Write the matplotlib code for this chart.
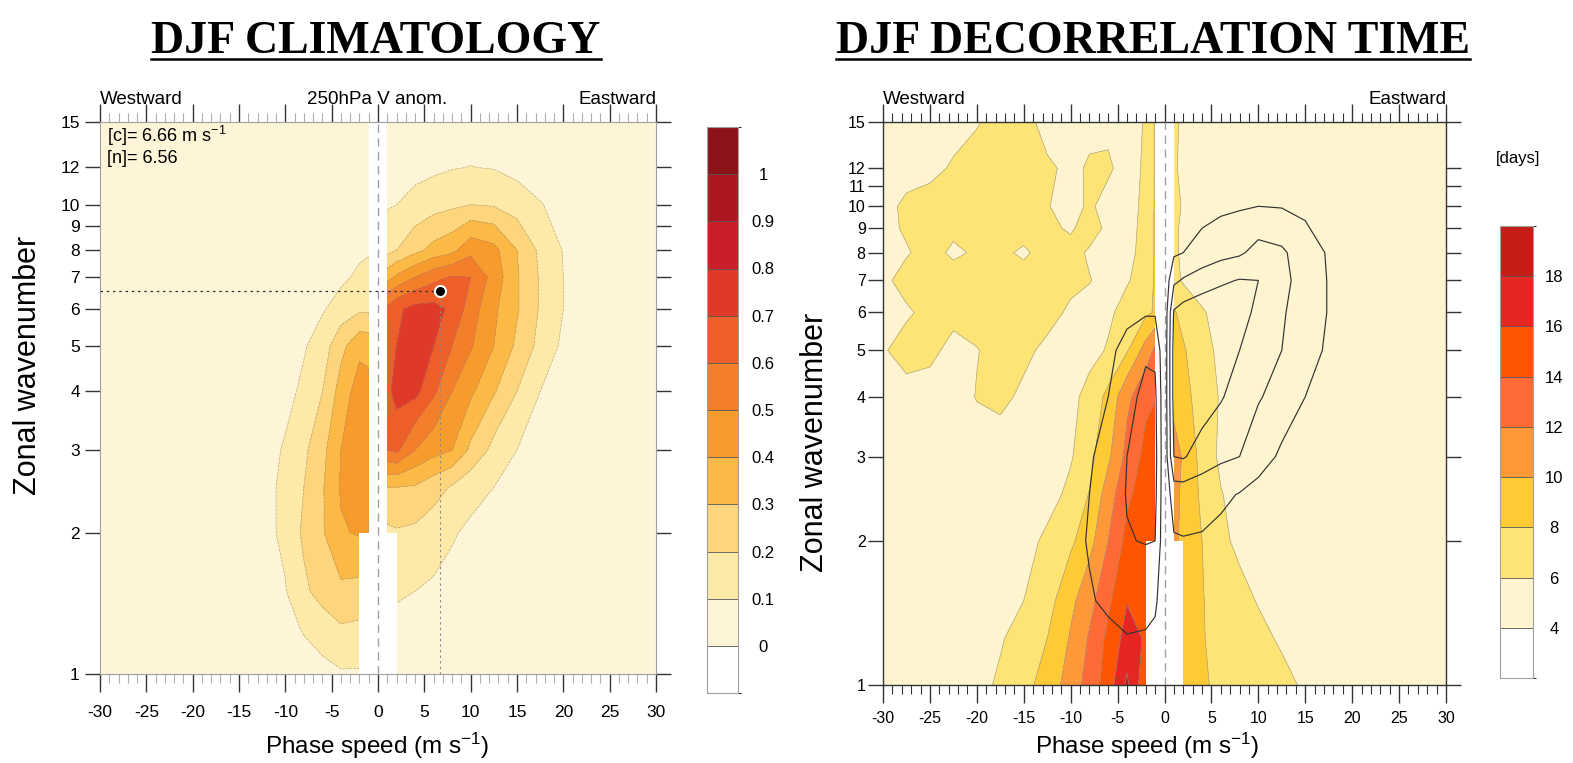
import numpy as np
import matplotlib
matplotlib.use("Agg")
import matplotlib.pyplot as plt
from matplotlib.colors import ListedColormap, BoundaryNorm
from matplotlib.cm import ScalarMappable
from matplotlib.lines import Line2D
from matplotlib.ticker import NullLocator, MultipleLocator

plt.rcParams['font.family'] = ['Liberation Sans', 'DejaVu Sans']
plt.rcParams['mathtext.fontset'] = 'custom'
plt.rcParams['mathtext.rm'] = 'Liberation Sans'
plt.rcParams['mathtext.it'] = 'Liberation Sans:italic'
plt.rcParams['axes.unicode_minus'] = False

# ---- left panel: 250hPa V anomaly climatology (phase speed x zonal wavenumber)
clim_speed = [-30, -25, -20, -17.5, -15, -12.5, -10, -8, -6, -4, -2, -1, 0,
              1, 2, 4, 6, 8, 10, 12.5, 15, 17.5, 20, 25, 30]
clim_wavenum = [1, 1.25, 1.5, 2, 2.5, 3, 4, 5, 6, 7, 8, 10, 12, 15]
clim_values = [
    [.05, .05, .05, .05, .05, .05, .05, .05, .07, .09, .09, .08, .05, .06, .06, .05, .05, .05, .05, .05, .05, .05, .05, .05, .05],
    [.05, .05, .05, .05, .05, .05, .06, .11, .15, .19, .18, .15, .05, .08, .08, .075, .06, .05, .05, .05, .05, .05, .05, .05, .05],
    [.05, .05, .05, .05, .05, .06, .095, .18, .24, .28, .27, .24, .05, .11, .11, .10, .085, .07, .06, .05, .05, .05, .05, .05, .05],
    [.05, .05, .05, .05, .05, .07, .12, .22, .29, .39, .41, .40, .05, .18, .19, .18, .15, .11, .08, .06, .05, .05, .05, .05, .05],
    [.05, .05, .05, .05, .05, .07, .12, .20, .29, .41, .46, .45, .05, .30, .30, .29, .24, .19, .14, .10, .07, .05, .05, .05, .05],
    [.05, .05, .05, .05, .05, .06, .11, .18, .27, .40, .49, .47, .05, .60, .62, .50, .44, .40, .28, .17, .10, .06, .05, .05, .05],
    [.05, .05, .05, .05, .05, .05, .07, .12, .20, .34, .45, .44, .05, .67, .74, .73, .62, .50, .42, .31, .20, .10, .06, .05, .05],
    [.05, .05, .05, .05, .05, .05, .05, .09, .15, .27, .37, .36, .05, .67, .70, .75, .70, .60, .51, .40, .28, .17, .08, .05, .05],
    [.05, .05, .05, .05, .05, .05, .05, .06, .09, .14, .18, .18, .05, .62, .68, .73, .73, .68, .55, .42, .31, .19, .10, .05, .05],
    [.05, .05, .05, .05, .05, .05, .05, .05, .05, .08, .12, .13, .05, .36, .42, .50, .57, .61, .60, .46, .31, .19, .10, .05, .05],
    [.05, .05, .05, .05, .05, .05, .05, .05, .05, .05, .08, .09, .05, .17, .20, .27, .33, .37, .47, .43, .30, .18, .095, .05, .05],
    [.05, .05, .05, .05, .05, .05, .05, .05, .05, .05, .05, .06, .05, .09, .10, .13, .16, .18, .20, .19, .15, .105, .07, .05, .05],
    [.05, .05, .05, .05, .05, .05, .05, .05, .05, .05, .05, .05, .05, .05, .06, .07, .08, .095, .102, .095, .07, .05, .05, .05, .05],
    [.05, .05, .05, .05, .05, .05, .05, .05, .05, .05, .05, .05, .05, .05, .05, .05, .05, .05, .05, .05, .05, .05, .05, .05, .05],
]
clim_levels = [0, .1, .2, .3, .4, .5, .6, .7, .8, .9, 1.0, 1.1]
clim_colors = ['#ffffff', '#fef5d8', '#fdeaa8', '#fcd57c', '#fbb945', '#f89b2d',
               '#f47f2a', '#ee5e29', '#df3a27', '#cc1e2a', '#ad1820', '#8c1418']
clim_ticks = [0, .1, .2, .3, .4, .5, .6, .7, .8, .9, 1]
clim_ticklabels = ['0', '0.1', '0.2', '0.3', '0.4', '0.5', '0.6', '0.7', '0.8', '0.9', '1']
centroid_speed = 6.66
centroid_wavenum = 6.56

# ---- right panel: decorrelation time (days)
decor_speed = [-30, -27.5, -25, -22.5, -20, -17.5, -15, -12.5, -10, -8, -6, -4, -2, -1,
               1, 2, 4, 6, 8, 10, 12.5, 15, 17.5, 20, 25, 30]
decor_wavenum = [1, 1.25, 1.5, 2, 2.5, 3, 4, 5, 6, 7, 8, 9, 10, 12, 15]
decor_values = [
    [5, 5, 5, 5, 5.4, 6.3, 7.4, 8.8, 10.9, 12.8, 15, 18.4, 14.5, 14, 9.3, 9.3, 8.25, 7.6, 7.3, 6.9, 6.4, 5.8, 5.3, 5, 5, 5],
    [5, 5, 5, 5, 5.2, 5.8, 6.9, 8, 10.2, 12.2, 14.5, 16.8, 15.8, 15.5, 9.2, 9.2, 8.1, 7.5, 7, 6.4, 5.8, 5.2, 5, 5, 5, 5],
    [5, 5, 5, 5, 5, 5.3, 6, 7.2, 9.5, 11.3, 13.6, 15.9, 15.4, 15, 9, 9, 8.1, 7.2, 6.5, 5.9, 5.2, 5, 5, 5, 5, 5],
    [5, 5, 5, 5, 5, 5, 5.3, 6.4, 7.6, 9.3, 12, 14.6, 15.3, 15.4, 10.5, 9.5, 8, 6.4, 5.6, 5.1, 5, 5, 5, 5, 5, 5],
    [5, 5, 5, 5, 5, 5, 5, 5.2, 6.5, 8.1, 11, 13.6, 15, 15.2, 10.6, 9.6, 7.6, 6.1, 5.3, 5, 5, 5, 5, 5, 5, 5],
    [5, 5, 5, 5, 5, 5, 5, 5, 5.8, 7.4, 9.6, 12.6, 14.6, 15, 10.8, 9.8, 7.3, 5.6, 5, 5, 5, 5, 5, 5, 5, 5],
    [5, 5.3, 5.2, 5, 6.1, 6.5, 5.6, 5, 5.4, 6.7, 8.5, 11.5, 13.5, 13.9, 9.3, 8.6, 7.2, 5.8, 5, 5, 5, 5, 5, 5, 5, 5],
    [5.8, 6.8, 6.5, 5.4, 5.9, 6.8, 6.5, 5.5, 5, 5.3, 6.2, 7.8, 10.8, 12.4, 8.8, 8.2, 6.8, 5.5, 5, 5, 5, 5, 5, 5, 5, 5],
    [5, 5.7, 6.6, 6.6, 7, 6.8, 7, 6.8, 5.6, 5.2, 5.6, 6.8, 7.6, 8.2, 8.2, 7.4, 6.2, 5.3, 5, 5, 5, 5, 5, 5, 5, 5],
    [5.5, 6.8, 7, 7, 7, 7, 7, 7, 6.6, 6.1, 5.3, 5.8, 7, 8.2, 6.5, 5.8, 5, 5, 5, 5, 5, 5, 5, 5, 5, 5],
    [5, 5.8, 6.8, 5.6, 6.3, 6.5, 5.6, 7, 6.8, 5.7, 5.5, 5.5, 6.6, 8.2, 6.3, 5.7, 5, 5, 5, 5, 5, 5, 5, 5, 5, 5],
    [5.3, 6.3, 7, 6.5, 7, 7, 7, 6.5, 5.7, 7, 5.5, 5.3, 6.6, 8.2, 6.2, 5.8, 5, 5, 5, 5, 5, 5, 5, 5, 5, 5],
    [5.2, 6.5, 7, 7, 7, 7, 7, 6.1, 5.3, 6.3, 5.3, 5.2, 6.5, 8.2, 6.3, 5.9, 5, 5, 5, 5, 5, 5, 5, 5, 5, 5],
    [5, 5, 5.3, 6.3, 7, 7, 7, 6.3, 5.6, 6.2, 6.3, 5.2, 6.3, 8.2, 6.3, 5.5, 5, 5, 5, 5, 5, 5, 5, 5, 5, 5],
    [5, 5, 5, 5, 5.8, 7, 6.8, 5.2, 5, 5.5, 5.5, 5, 6.2, 8.2, 6.5, 5.5, 5, 5, 5, 5, 5, 5, 5, 5, 5, 5],
]
decor_levels = [2, 4, 6, 8, 10, 12, 14, 16, 18, 20]
decor_colors = ['#ffffff', '#fef4d0', '#fee475', '#feca36', '#fe9838',
                '#ff6a35', '#ff5500', '#e52722', '#c41e16']
decor_ticks = [4, 6, 8, 10, 12, 14, 16, 18]
clim_line_levels = [0.2, 0.4, 0.6]

# masked band around zero phase speed
mask_half = 1.0
mask_half_low = 2.0
mask_k_low = 2.0

speed_ticks = list(range(-30, 31, 5))
k_ticks_left = [1, 2, 3, 4, 5, 6, 7, 8, 9, 10, 12, 15]
k_ticks_right = [1, 2, 3, 4, 5, 6, 7, 8, 9, 10, 11, 12, 15]

W, H = 1573, 763
fig = plt.figure(figsize=(W / 100, H / 100), dpi=100)


def px_axes(x0, y0, x1, y1):
    return fig.add_axes([x0 / W, 1 - y1 / H, (x1 - x0) / W, (y1 - y0) / H])


ax1 = px_axes(100, 122, 656, 674)
ax2 = px_axes(883, 122, 1446, 685)
cax1 = px_axes(707, 127, 738, 693)
cax2 = px_axes(1500, 226, 1533, 678)

S1, K1 = np.meshgrid(clim_speed, clim_wavenum)
Z1 = np.array(clim_values)
S2, K2 = np.meshgrid(decor_speed, decor_wavenum)
Z2 = np.array(decor_values)

ax1.contourf(S1, K1, Z1, levels=clim_levels, colors=clim_colors[1:], zorder=1)
ax1.contour(S1, K1, Z1, levels=clim_levels[1:-1], colors='#8a8a8a', linewidths=0.5,
            linestyles='dashed', alpha=0.6, zorder=1.5)

ax2.contourf(S2, K2, Z2, levels=decor_levels[1:], colors=decor_colors[1:], zorder=1)
ax2.contour(S2, K2, Z2, levels=decor_levels[2:-1], colors='#9a9a9a', linewidths=0.5,
            alpha=0.8, zorder=1.5)

for ax in (ax1, ax2):
    ax.fill_between([-mask_half, mask_half], 1, 15, color='white', lw=0, zorder=2)
    ax.fill_between([-mask_half_low, mask_half_low], 1, mask_k_low, color='white', lw=0, zorder=2)
    ax.axvline(0, color='#a0a0a0', lw=1, dashes=(6, 4), zorder=3)

# climatology contours overlaid on decorrelation time
ax2.contour(S1, K1, Z1, levels=clim_line_levels, colors='#333333', linewidths=0.85, zorder=4)

# centroid marker
ax1.plot([-30, centroid_speed], [centroid_wavenum, centroid_wavenum], color='#333333',
         lw=0.9, ls=(0, (2, 3)), zorder=5)
ax1.plot([centroid_speed, centroid_speed], [1, centroid_wavenum], color='#8a8a8a',
         lw=0.8, ls=(0, (2, 3)), zorder=5)
ax1.plot(centroid_speed, centroid_wavenum, 'o', ms=8, mfc='black', mec='white', mew=1.5,
         zorder=6, clip_on=False)


def style_axes(ax, kticks, fs, spine_col, ypad, xpad):
    ax.set_yscale('log')
    ax.set_xlim(-30, 30)
    ax.set_ylim(1, 15)
    ax.set_xticks(speed_ticks)
    ax.set_xticklabels([str(v) for v in speed_ticks])
    ax.xaxis.set_minor_locator(MultipleLocator(1))
    ax.set_yticks(kticks)
    ax.set_yticklabels([str(v) for v in kticks])
    ax.yaxis.set_minor_locator(NullLocator())
    ax.tick_params(axis='x', which='major', direction='out', length=13, width=1,
                   top=True, bottom=True, labelsize=fs, pad=xpad, color='#333333')
    ax.tick_params(axis='x', which='minor', direction='out', length=6.5, width=0.8,
                   top=True, bottom=True)
    ax.tick_params(axis='y', which='major', direction='out', length=11, width=1,
                   left=True, right=True, labelsize=fs, pad=ypad, color='#333333')
    for sp in ax.spines.values():
        sp.set_color(spine_col)
    ax.set_facecolor('white')


style_axes(ax1, k_ticks_left, 12.5, '#a0a0a0', 3.5, 9)
style_axes(ax2, k_ticks_right, 11.5, '#333333', 1.5, 6)
ax1.tick_params(axis='x', which='minor', color='#b0b0b0')
ax2.tick_params(axis='x', which='minor', color='#333333')
for sp in ax2.spines.values():
    sp.set_linewidth(1.0)

# lighter tick marks on the left panel's inner wavenumbers
for tick, kv in zip(ax1.yaxis.get_major_ticks(), k_ticks_left):
    col = '#333333' if kv in (2, 3, 4, 12) else '#bdbdbd'
    if kv in (1, 15):
        col = '#9a9a9a'
    tick.tick1line.set_color(col)
    tick.tick2line.set_color(col)


def draw_colorbar(cax, bounds, colors, ticks, labels, fs, pad):
    cmap = ListedColormap(colors)
    norm = BoundaryNorm(bounds, cmap.N)
    cb = fig.colorbar(ScalarMappable(norm=norm, cmap=cmap), cax=cax, boundaries=bounds,
                      ticks=ticks, drawedges=True, spacing='uniform')
    cb.set_ticklabels(labels)
    cb.outline.set_edgecolor('#a0a0a0')
    cb.outline.set_linewidth(0.8)
    cb.dividers.set_color('#555555')
    cb.dividers.set_linewidth(0.6)
    cax.tick_params(length=0, pad=pad, labelsize=fs)
    for lbl in cax.get_yticklabels():
        lbl.set_ha('center')
    return cb


draw_colorbar(cax1, [-0.1] + clim_levels, clim_colors, clim_ticks, clim_ticklabels, 12, 18)
draw_colorbar(cax2, decor_levels, decor_colors, decor_ticks,
              [str(v) for v in decor_ticks], 12, 15)
fig.text(1518 / W, 1 - 159 / H, '[days]', ha='center', va='center', fontsize=12)

# text around the panels
fig.text(100 / W, 1 - 104 / H, 'Westward', ha='left', va='baseline', fontsize=13.5)
fig.text(377 / W, 1 - 104 / H, '250hPa V anom.', ha='center', va='baseline', fontsize=13.5)
fig.text(656 / W, 1 - 104 / H, 'Eastward', ha='right', va='baseline', fontsize=13.5)
fig.text(883 / W, 1 - 104 / H, 'Westward', ha='left', va='baseline', fontsize=13.5)
fig.text(1446 / W, 1 - 104 / H, 'Eastward', ha='right', va='baseline', fontsize=13.5)

fig.text(107 / W, 1 - 124 / H, '[c]= 6.66 m s$^{-1}$', ha='left', va='top', fontsize=13)
fig.text(107 / W, 1 - 150 / H, '[n]= 6.56', ha='left', va='top', fontsize=13)

fig.text(377 / W, 1 - 746 / H, 'Phase speed (m s$^{-1}$)', ha='center', va='center', fontsize=17.5)
fig.text(1147 / W, 1 - 746 / H, 'Phase speed (m s$^{-1}$)', ha='center', va='center', fontsize=17.5)
fig.text(28 / W, 1 - 365 / H, 'Zonal wavenumber', ha='center', va='center', rotation=90, fontsize=22)
fig.text(815 / W, 1 - 442 / H, 'Zonal wavenumber', ha='center', va='center', rotation=90, fontsize=22)

titles = []
titles.append(fig.text(376 / W, 1 - 53 / H, 'DJF CLIMATOLOGY', ha='center', va='baseline',
                       family='Liberation Serif', weight='bold', fontsize=33))
titles.append(fig.text(1153 / W, 1 - 53 / H, 'DJF DECORRELATION TIME', ha='center', va='baseline',
                       family='Liberation Serif', weight='bold', fontsize=33))
fig.canvas.draw()
for t in titles:
    bb = t.get_window_extent()
    fig.add_artist(Line2D([bb.x0 / W, bb.x1 / W], [1 - 59 / H, 1 - 59 / H],
                          transform=fig.transFigure, color='black', lw=1.8))

fig.savefig('out.png', dpi=100)
